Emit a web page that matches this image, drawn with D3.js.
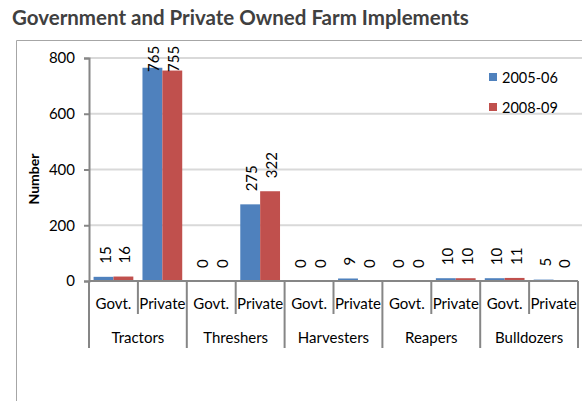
<!DOCTYPE html>
<html><head><meta charset="utf-8">
<script src="https://cdn.jsdelivr.net/npm/d3@7"></script>
<style>
body{margin:0;background:#fff;}
text{font-family:Lato,"Open Sans",sans-serif;}
</style></head>
<body><svg id="c" width="582" height="401"></svg>
<script>
const groups = ["Tractors","Threshers","Harvesters","Reapers","Bulldozers"];
const subs = ["Govt.","Private"];
const seriesNames = ["2005-06","2008-09"];
const s2005 = [15,765,0,275,0,9,0,10,10,5];
const s2008 = [16,755,0,322,0,0,0,10,11,0];
const yTicks = [0,200,400,600,800];
const colors = ["#4f81bd","#c0504d"];

const svg = d3.select("#c");
const m = {l:89, r:578, t:58, b:281};
svg.append("text").attr("x",12).attr("y",25).attr("font-size",20.5).attr("font-weight","bold")
  .attr("fill","#404040").text("Government and Private Owned Farm Implements");
// chart border
svg.append("path").attr("d","M16.5,401 V40.5 H582").attr("fill","none").attr("stroke","#a6a6a6").attr("stroke-width",1);

const slots = [];
groups.forEach(g=>subs.forEach(s=>slots.push(g+"|"+s)));
const x = d3.scaleBand().domain(slots).range([m.l,m.r]).padding(0);
const xi = d3.scaleBand().domain(seriesNames).range([0,x.bandwidth()]).paddingOuter(0.23).paddingInner(0);
const y = d3.scaleLinear().domain([0,800]).range([m.b,m.t]);

// grid
svg.append("g").selectAll("line").data(yTicks.filter(d=>d>0)).join("line")
  .attr("x1",m.l).attr("x2",582).attr("y1",d=>y(d)).attr("y2",d=>y(d))
  .attr("stroke","#d9d9d9").attr("stroke-width",2);

// bars
const data = [s2005,s2008];
data.forEach((arr,si)=>{
  svg.append("g").selectAll("rect").data(arr).join("rect")
    .attr("x",(d,i)=>x(slots[i])+xi(seriesNames[si]))
    .attr("width",xi.bandwidth())
    .attr("y",d=>y(d)).attr("height",d=>y(0)-y(d))
    .attr("fill",colors[si]);
  svg.append("g").selectAll("text").data(arr).join("text")
    .attr("transform",(d,i)=>`translate(${x(slots[i])+xi(seriesNames[si])+xi.bandwidth()/2+1},${Math.max(y(d)-13,72)}) rotate(-90)`)
    .attr("dominant-baseline","central").attr("font-size",15).attr("fill","#000")
    .text(d=>d);
});

// y axis
const ya = svg.append("g").attr("transform",`translate(${m.l},0)`)
  .call(d3.axisLeft(y).tickValues(yTicks).tickSize(5).tickPadding(9));
ya.select(".domain").attr("stroke","#868686").attr("stroke-width",2);
ya.selectAll(".tick line").attr("stroke","#868686").attr("stroke-width",2);
ya.selectAll(".tick text").attr("font-size",15).attr("fill","#000").attr("font-family","Lato,'Open Sans',sans-serif");

// x axis baseline
svg.append("line").attr("x1",m.l).attr("x2",m.r).attr("y1",y(0)).attr("y2",y(0))
  .attr("stroke","#868686").attr("stroke-width",2);
// dividers
slots.forEach((s,i)=>{
  const long = i%2===0;
  svg.append("line").attr("x1",x(s)).attr("x2",x(s)).attr("y1",y(0)).attr("y2",long?348:314)
    .attr("stroke","#868686").attr("stroke-width",2);
});
svg.append("line").attr("x1",m.r).attr("x2",m.r).attr("y1",y(0)).attr("y2",348)
  .attr("stroke","#868686").attr("stroke-width",2);
// sub labels
svg.append("g").selectAll("text").data(slots).join("text")
  .attr("x",d=>x(d)+x.bandwidth()/2).attr("y",303).attr("text-anchor","middle")
  .attr("dominant-baseline","central").attr("font-size",15).text(d=>d.split("|")[1]);
svg.append("g").selectAll("text").data(groups).join("text")
  .attr("x",g=>x(g+"|Govt.")+x.bandwidth()).attr("y",337).attr("text-anchor","middle")
  .attr("dominant-baseline","central").attr("font-size",15).text(d=>d);

// y label
svg.append("text").attr("transform","translate(33,179) rotate(-90)").attr("text-anchor","middle")
  .attr("dominant-baseline","central").attr("font-size",14).attr("font-weight","bold").text("Number");

// legend
const lg = svg.append("g");
seriesNames.forEach((n,i)=>{
  lg.append("rect").attr("x",489).attr("y",73+i*30).attr("width",8).attr("height",8).attr("fill",colors[i]);
  lg.append("text").attr("x",502).attr("y",77+i*30).attr("dominant-baseline","central").attr("font-size",14.5).text(n);
});
</script></body></html>
